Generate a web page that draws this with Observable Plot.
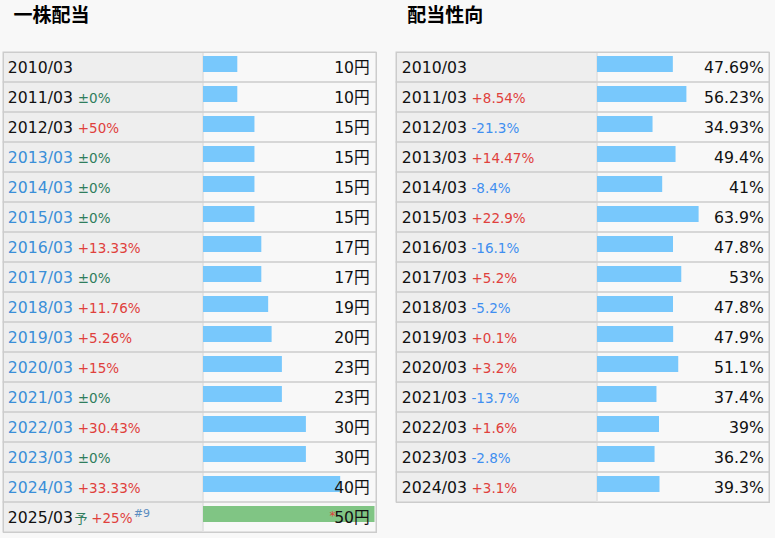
<!DOCTYPE html>
<html>
<head>
<meta charset="utf-8">
<script src="https://cdn.jsdelivr.net/npm/d3@7"></script>
<script src="https://cdn.jsdelivr.net/npm/@observablehq/plot@0.6"></script>
<style>
  html, body { margin: 0; padding: 0; background: #f8f8f8; }
  #wrap { position: relative; width: 775px; height: 538px; overflow: hidden; }
  #left { position: absolute; left: 0; top: 0; }
  #right { position: absolute; left: 390px; top: 0; }
  svg { background: transparent !important; }
</style>
</head>
<body>
<div id="wrap"><div id="left"></div><div id="right"></div></div>
<script>
// ---- Data ----
const divTitle = "一株配当";
const payoutTitle = "配当性向";

const divYears = ["2010/03","2011/03","2012/03","2013/03","2014/03","2015/03","2016/03","2017/03","2018/03","2019/03","2020/03","2021/03","2022/03","2023/03","2024/03","2025/03"];
const divValues = [10,10,15,15,15,15,17,17,19,20,23,23,30,30,40,50];
const divChanges = ["","±0%","+50%","±0%","±0%","±0%","+13.33%","±0%","+11.76%","+5.26%","+15%","±0%","+30.43%","±0%","+33.33%","+25%"];
const divLinked = [false,false,false,true,true,true,true,true,true,true,true,true,true,true,true,false];
const divForecast = [false,false,false,false,false,false,false,false,false,false,false,false,false,false,false,true];
const forecastMark = "予";
const forecastNote = "#9";
const forecastStar = "*";
const yenUnit = "円";

const payYears = ["2010/03","2011/03","2012/03","2013/03","2014/03","2015/03","2016/03","2017/03","2018/03","2019/03","2020/03","2021/03","2022/03","2023/03","2024/03"];
const payValues = [47.69,56.23,34.93,49.4,41,63.9,47.8,53,47.8,47.9,51.1,37.4,39,36.2,39.3];
const payChanges = ["","+8.54%","-21.3%","+14.47%","-8.4%","+22.9%","-16.1%","+5.2%","-5.2%","+0.1%","+3.2%","-13.7%","+1.6%","-2.8%","+3.1%"];

// ---- Styles ----
const FONT = "'DejaVu Sans', 'Noto Sans CJK JP', sans-serif";
const BLUE_BAR = "#78c8fc";
const GREEN_BAR = "#80c584";
const LABEL_BG = "#eeeeee";
const BORDER = "#cccccc";
const TEXT = "#111111";
const LINK = "#3a8fd8";
const UP = "#e0403c";
const DOWN = "#3f8ef0";
const FLAT = "#2f7d5d";
const changeColor = c => c.startsWith("+") ? UP : c.startsWith("-") ? DOWN : FLAT;

const divRows = divYears.map((year, i) => ({
  year, value: divValues[i], label: divValues[i] + yenUnit, change: divChanges[i],
  linked: divLinked[i], forecast: divForecast[i]
}));
const payRows = payYears.map((year, i) => ({
  year, value: payValues[i], label: payValues[i] + "%", change: payChanges[i]
}));

const baseStyle = { fontFamily: FONT, background: "transparent", color: TEXT, overflow: "visible" };

// ---- Left: 一株配当 ----
const left = Plot.plot({
  width: 388, height: 538,
  marginLeft: 3, marginRight: 12, marginTop: 52, marginBottom: 6,
  x: { domain: [0, 50], range: [203, 374.5], axis: null },
  y: { domain: divYears, axis: null, padding: 0 },
  color: { type: "identity" },
  style: baseStyle,
  marks: [
    Plot.cell(divRows, { y: "year", fill: LABEL_BG, insetRight: 173.5 }),
    Plot.cell(divRows, { y: "year", fill: "none", stroke: BORDER }),
    Plot.ruleX([0], { stroke: "#d2d2d2", dx: -0.5, insetTop: 1, insetBottom: 1 }),
    Plot.barX(divRows, { x: "value", y: "year", fill: d => d.forecast ? GREEN_BAR : BLUE_BAR, insetTop: 4, insetBottom: 10 }),
    Plot.text(divRows, { y: "year", text: "year", frameAnchor: "left", textAnchor: "start", dx: 4.3, dy: 0.5,
      fontSize: 15.7, fill: d => d.linked ? LINK : TEXT }),
    Plot.text(divRows, { filter: d => !d.forecast, y: "year", text: "change", frameAnchor: "left", textAnchor: "start",
      dx: 74.3, dy: 1, fontSize: 13.5, fill: d => changeColor(d.change) }),
    Plot.text(divRows, { filter: d => d.forecast, y: "year", text: () => forecastMark, frameAnchor: "left", textAnchor: "start",
      dx: 71, dy: 1.5, fontSize: 13, fill: FLAT }),
    Plot.text(divRows, { filter: d => d.forecast, y: "year", text: "change", frameAnchor: "left", textAnchor: "start",
      dx: 87.7, dy: 1, fontSize: 13.5, fill: d => changeColor(d.change) }),
    Plot.text(divRows, { filter: d => d.forecast, y: "year", text: () => forecastNote, frameAnchor: "left", textAnchor: "start",
      dx: 130.3, dy: -4, fontSize: 11, fill: "#5a8cc0" }),
    Plot.text(divRows, { y: "year", text: "label", frameAnchor: "right", textAnchor: "end", dx: -6.7, dy: 0.5,
      fontSize: 15.7, fill: TEXT }),
    Plot.text(divRows, { filter: d => d.forecast, y: "year", text: () => forecastStar, frameAnchor: "right", textAnchor: "end",
      dx: -41, dy: -1, fontSize: 12, fill: UP }),
    Plot.frame({ stroke: BORDER }),
    Plot.text([divTitle], { text: d => d, frameAnchor: "top-left", textAnchor: "start", lineAnchor: "middle",
      dx: 10, dy: -37, fontSize: 19, fontWeight: "bold", fill: "#000" })
  ]
});
document.getElementById("left").appendChild(left);

// ---- Right: 配当性向 ----
const right = Plot.plot({
  width: 385, height: 538,
  marginLeft: 6, marginRight: 6, marginTop: 52, marginBottom: 36,
  x: { domain: [0, 100], range: [207, 366], axis: null },
  y: { domain: payYears, axis: null, padding: 0 },
  color: { type: "identity" },
  style: baseStyle,
  marks: [
    Plot.cell(payRows, { y: "year", fill: LABEL_BG, insetRight: 172.5 }),
    Plot.cell(payRows, { y: "year", fill: "none", stroke: BORDER }),
    Plot.ruleX([0], { stroke: "#d2d2d2", dx: -0.5, insetTop: 1, insetBottom: 1 }),
    Plot.barX(payRows, { x: "value", y: "year", fill: BLUE_BAR, insetTop: 4, insetBottom: 10 }),
    Plot.text(payRows, { y: "year", text: "year", frameAnchor: "left", textAnchor: "start", dx: 5.3, dy: 0.5,
      fontSize: 15.7, fill: TEXT }),
    Plot.text(payRows, { y: "year", text: "change", frameAnchor: "left", textAnchor: "start",
      dx: 75, dy: 1, fontSize: 13.5, fill: d => changeColor(d.change) }),
    Plot.text(payRows, { y: "year", text: "label", frameAnchor: "right", textAnchor: "end", dx: -5.7, dy: 0.5,
      fontSize: 15.7, fill: TEXT }),
    Plot.frame({ stroke: BORDER }),
    Plot.text([payoutTitle], { text: d => d, frameAnchor: "top-left", textAnchor: "start", lineAnchor: "middle",
      dx: 10.7, dy: -37, fontSize: 19, fontWeight: "bold", fill: "#000" })
  ]
});
document.getElementById("right").appendChild(right);
</script>
</body>
</html>
